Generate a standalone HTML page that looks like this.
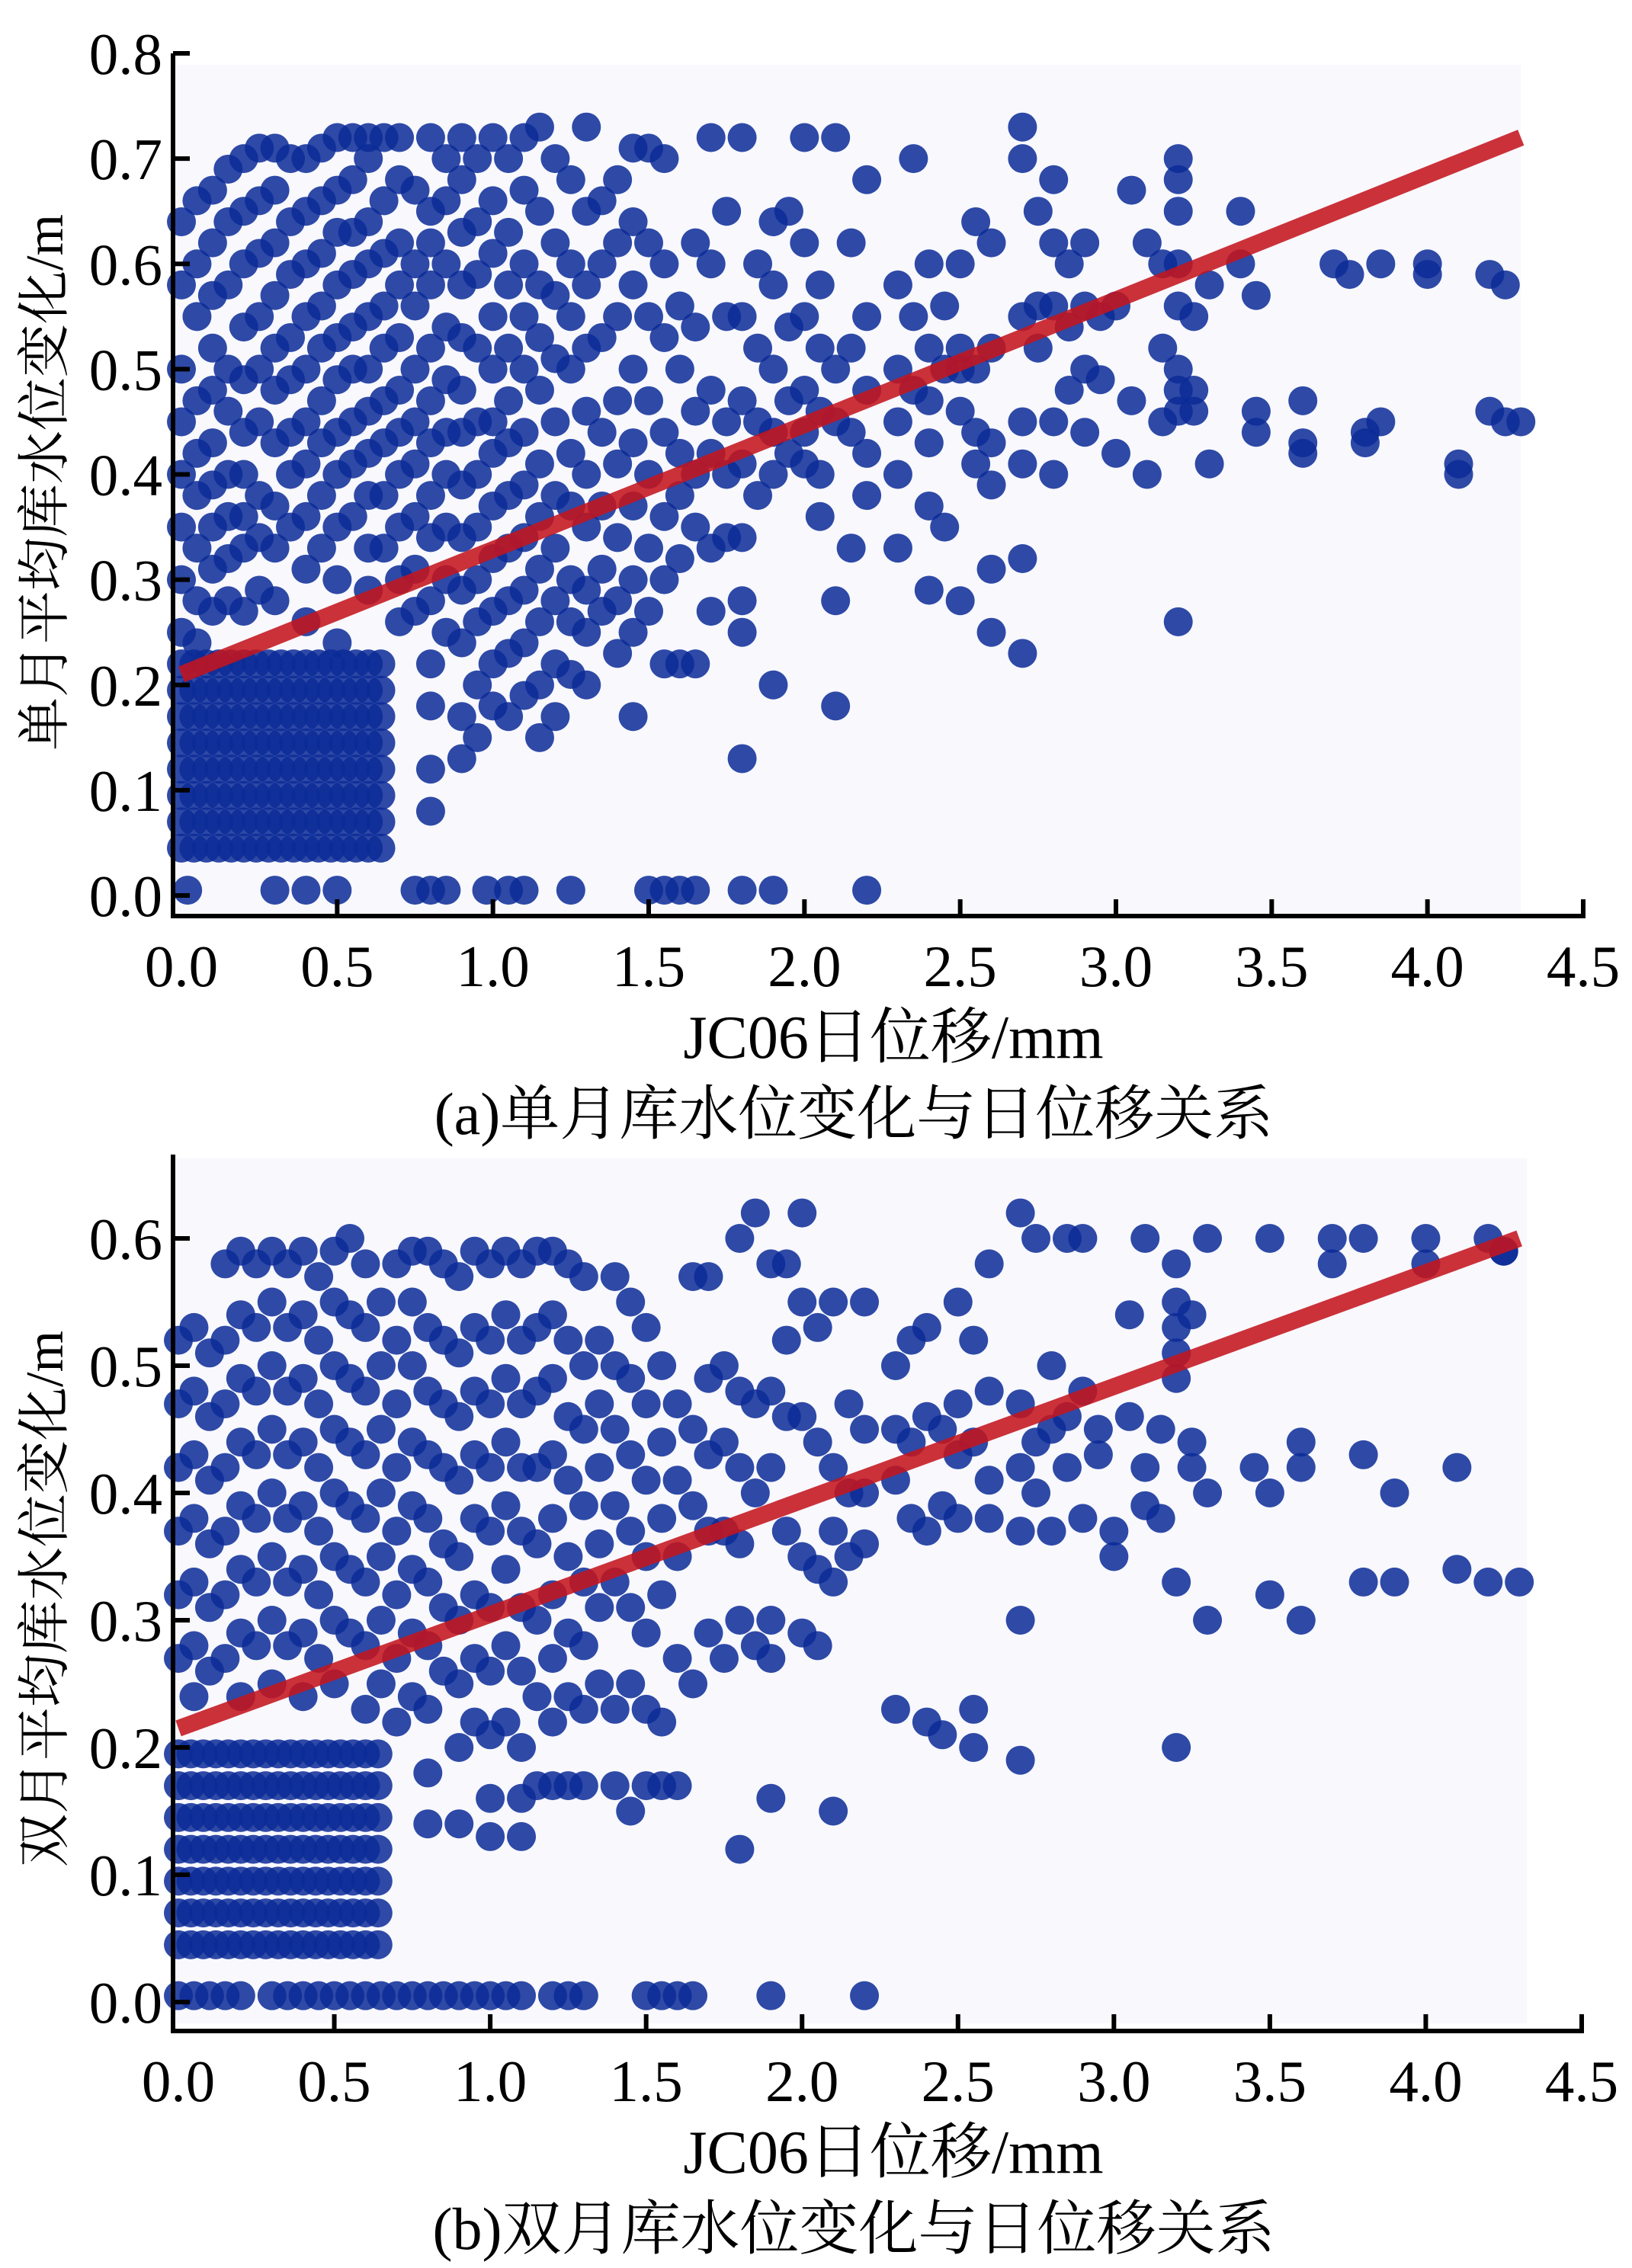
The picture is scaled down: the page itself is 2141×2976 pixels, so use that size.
<!DOCTYPE html>
<html><head><meta charset="utf-8"><style>
html,body{margin:0;padding:0;background:#fff;}
svg{display:block;}
text{font-family:"Liberation Serif","Noto Serif CJK SC",serif;fill:#000;}
</style></head><body>
<svg id="fig" width="2141" height="2976" viewBox="0 0 2141 2976" xmlns="http://www.w3.org/2000/svg"></svg>
<script>
// ---------- data: top chart (single month) ----------
const topCols = [
[0.0,[.64,.58,.5,.45,.4,.35,.3,.25]],[0.05,[.66,.6,.55,.47,.42,.38,.33,.28,.24]],
[0.1,[.67,.62,.57,.52,.48,.43,.39,.35,.31,.27]],[0.15,[.69,.64,.58,.5,.46,.4,.36,.32,.28]],
[0.2,[.7,.65,.6,.54,.49,.44,.4,.36,.33,.27]],[0.25,[.71,.66,.61,.55,.5,.45,.38,.34,.29]],
[0.3,[.71,.67,.62,.57,.52,.48,.43,.37,.33,.28]],[0.35,[.7,.64,.59,.53,.49,.44,.4,.35]],
[0.4,[.7,.65,.6,.55,.5,.45,.41,.36,.31,.26]],[0.45,[.71,.66,.61,.56,.52,.47,.43,.38,.33]],
[0.5,[.72,.67,.63,.58,.53,.49,.44,.4,.35,.3,.24]],[0.55,[.72,.68,.63,.59,.54,.5,.45,.41,.36]],
[0.6,[.72,.7,.64,.6,.55,.5,.46,.42,.38,.33,.29]],[0.65,[.72,.66,.61,.56,.52,.47,.43,.38,.33]],
[0.7,[.72,.68,.62,.58,.53,.48,.44,.4,.35,.3,.26]],[0.75,[.67,.6,.56,.5,.45,.41,.36,.31,.27]],
[0.8,[.72,.65,.62,.58,.52,.47,.43,.38,.34,.28,.22,.18,.12,.08]],[0.85,[.7,.66,.6,.54,.49,.44,.4,.35,.3,.25]],
[0.9,[.72,.68,.63,.58,.53,.48,.44,.39,.34,.29,.24,.17,.13]],[0.95,[.7,.64,.59,.52,.45,.4,.35,.3,.26,.2,.15]],
[1.0,[.72,.66,.61,.55,.5,.45,.42,.37,.32,.27,.22,.18]],[1.05,[.7,.63,.58,.52,.47,.43,.38,.33,.28,.23,.17]],
[1.1,[.72,.67,.6,.55,.5,.44,.39,.34,.29,.24,.19]],[1.15,[.73,.65,.58,.53,.48,.41,.36,.31,.26,.2,.15]],
[1.2,[.7,.62,.57,.51,.45,.38,.33,.28,.22,.17]],[1.25,[.68,.6,.55,.5,.42,.37,.3,.26,.21]],
[1.3,[.73,.65,.58,.52,.46,.4,.35,.29,.25,.2]],[1.35,[.66,.6,.53,.44,.37,.31,.27]],
[1.4,[.68,.62,.55,.47,.41,.34,.28,.23]],[1.45,[.71,.64,.58,.5,.43,.37,.3,.25,.17]],
[1.5,[.71,.62,.55,.47,.4,.33,.27]],[1.55,[.7,.6,.53,.44,.36,.3,.22]],
[1.6,[.56,.5,.42,.38,.32,.22]],[1.65,[.62,.54,.46,.4,.35,.22]],
[1.7,[.72,.6,.48,.42,.33,.27]],[1.75,[.65,.55,.45,.4,.34]],
[1.8,[.72,.55,.47,.41,.34,.28,.25,.13]],[1.85,[.6,.52,.45,.38]],
[1.9,[.64,.58,.5,.44,.4,.2]],[1.95,[.65,.54,.47,.42]],
[2.0,[.72,.62,.55,.48,.44,.41]],[2.05,[.58,.52,.46,.4,.36]],
[2.1,[.72,.5,.45,.28,.18]],[2.15,[.62,.52,.44,.33]],
[2.2,[.68,.55,.48,.42,.38]],[2.3,[.58,.5,.45,.4,.33]],
[2.35,[.7,.55,.48]],[2.4,[.6,.52,.47,.43,.37,.29]],
[2.45,[.56,.5,.35]],[2.5,[.6,.52,.5,.46,.28]],
[2.55,[.64,.5,.44,.41]],[2.6,[.62,.52,.43,.39,.31,.25]],
[2.7,[.73,.7,.55,.45,.41,.32,.23]],[2.75,[.65,.56,.52]],
[2.8,[.68,.62,.56,.45,.4]],[2.85,[.6,.54,.48]],
[2.9,[.62,.56,.5,.44]],[2.95,[.55,.49]],[3.0,[.56,.42]],[3.05,[.67,.47]],
[3.1,[.62,.4]],[3.15,[.6,.52,.45]],[3.2,[.7,.68,.65,.6,.56,.5,.48,.46,.26]],
[3.25,[.48,.46,.55]],[3.3,[.41,.58]],[3.4,[.65,.6]],[3.45,[.57,.46,.44]],
[3.6,[.47,.43,.42]],[3.7,[.6]],[3.75,[.59]],[3.8,[.44,.43]],[3.85,[.6,.45]],
[4.0,[.6,.59]],[4.1,[.41,.4]],[4.2,[.59,.46]],[4.25,[.58,.45]],[4.3,[.45]]
];
const topZeroX = [.02,.3,.4,.5,.75,.8,.85,.98,1.05,1.1,1.25,1.5,1.55,1.6,1.65,1.8,1.9,2.2];
const topBlockX = [0,.04,.08,.12,.16,.2,.24,.28,.32,.36,.4,.44,.48,.52,.56,.6,.64];
const topBlockY = [.045,.07,.095,.12,.145,.17,.195,.22];
const topFit = [[0,0.21],[4.3,0.72]];
const topYTicks = [0,0.1,0.2,0.3,0.4,0.5,0.6,0.7,0.8];
const xTicks = [0,0.5,1.0,1.5,2.0,2.5,3.0,3.5,4.0,4.5];

// ---------- data: bottom chart (double month) ----------
const botCols = [
[0.0,[.52,.47,.42,.37,.32,.27]],[0.05,[.53,.48,.43,.38,.33,.28,.24]],
[0.1,[.51,.46,.41,.36,.31,.26]],[0.15,[.58,.52,.47,.42,.37,.32,.27]],
[0.2,[.59,.54,.49,.44,.39,.34,.29,.24]],[0.25,[.58,.53,.48,.43,.38,.33,.28]],
[0.3,[.59,.55,.5,.45,.4,.35,.3,.25]],[0.35,[.58,.53,.48,.43,.38,.33,.28]],
[0.4,[.59,.54,.49,.44,.39,.34,.29,.24]],[0.45,[.57,.52,.47,.42,.37,.32,.27]],
[0.5,[.59,.55,.5,.45,.4,.35,.3,.25]],[0.55,[.6,.54,.49,.44,.39,.34,.29]],
[0.6,[.58,.53,.48,.43,.38,.33,.28,.23]],[0.65,[.55,.5,.45,.4,.35,.3,.25]],
[0.7,[.58,.52,.47,.42,.37,.32,.27,.22]],[0.75,[.59,.55,.5,.44,.39,.34,.29,.24]],
[0.8,[.59,.53,.48,.43,.38,.33,.28,.23,.18,.14]],[0.85,[.58,.52,.47,.42,.36,.31,.26]],
[0.9,[.57,.51,.46,.41,.35,.3,.25,.2,.14]],[0.95,[.59,.53,.48,.43,.38,.32,.27,.22]],
[1.0,[.58,.52,.47,.42,.37,.31,.26,.21,.16,.13]],[1.05,[.59,.54,.49,.44,.39,.34,.28,.22]],
[1.1,[.58,.52,.47,.42,.37,.31,.26,.2,.16,.13]],[1.15,[.59,.53,.48,.42,.36,.3,.24,.17]],
[1.2,[.59,.54,.49,.43,.38,.32,.27,.22,.17]],[1.25,[.58,.52,.46,.41,.35,.29,.24,.17]],
[1.3,[.57,.5,.45,.39,.33,.28,.23,.17]],[1.35,[.52,.47,.42,.36,.31,.25]],
[1.4,[.57,.5,.45,.39,.33,.23,.17]],[1.45,[.55,.49,.43,.37,.31,.25,.15]],
[1.5,[.53,.47,.41,.35,.29,.23,.17]],[1.55,[.5,.44,.38,.32,.22,.17]],
[1.6,[.47,.41,.35,.27,.17]],[1.65,[.57,.45,.39,.25]],
[1.7,[.57,.49,.43,.37,.29]],[1.75,[.5,.44,.37,.27]],
[1.8,[.6,.48,.42,.36,.3,.12]],[1.85,[.62,.47,.4,.28]],
[1.9,[.58,.48,.42,.3,.27,.16]],[1.95,[.58,.52,.46,.37]],
[2.0,[.62,.55,.46,.35,.29]],[2.05,[.53,.44,.34,.28]],
[2.1,[.55,.42,.37,.33,.15]],[2.15,[.47,.4,.35]],
[2.2,[.55,.45,.4,.36]],[2.3,[.5,.45,.41,.23]],
[2.35,[.52,.44,.38]],[2.4,[.53,.46,.37,.22]],
[2.45,[.45,.39,.21]],[2.5,[.55,.47,.43,.38]],
[2.55,[.52,.44,.23,.2]],[2.6,[.58,.48,.41,.38]],
[2.7,[.62,.47,.42,.37,.3,.19]],[2.75,[.6,.44,.4]],
[2.8,[.5,.45,.37]],[2.85,[.6,.46,.42]],
[2.9,[.6,.48,.38]],[2.95,[.45,.43]],[3.0,[.37,.35]],[3.05,[.54,.46]],
[3.1,[.6,.42,.39]],[3.15,[.45,.38]],[3.2,[.58,.55,.53,.51,.49,.33,.2]],
[3.25,[.54,.44,.42]],[3.3,[.6,.3,.4]],[3.45,[.42]],[3.5,[.6,.32,.4]],
[3.6,[.44,.42,.3]],[3.7,[.6,.58]],[3.8,[.6,.43,.33]],[3.9,[.4,.33]],
[4.0,[.58,.6]],[4.1,[.42,.34]],[4.2,[.6,.33]],[4.25,[.59,.59]],[4.3,[.33]]
];
const botZeroX = [.0,.05,.1,.15,.2,.3,.35,.4,.45,.5,.55,.6,.65,.7,.75,.8,.85,.9,.95,1.0,1.05,1.1,1.2,1.25,1.3,1.5,1.55,1.6,1.65,1.9,2.2];
const botBlockX = [0,.04,.08,.12,.16,.2,.24,.28,.32,.36,.4,.44,.48,.52,.56,.6,.64];
const botBlockY = [.045,.07,.095,.12,.145,.17,.195];
const botFit = [[0,0.215],[4.3,0.60]];
const botYTicks = [0,0.1,0.2,0.3,0.4,0.5,0.6];

// ---------- drawing ----------
const NS = 'http://www.w3.org/2000/svg';
const fig = document.getElementById('fig');
function mk(tag, attrs, parent){
  const e = document.createElementNS(NS, tag);
  for (const k in attrs) e.setAttribute(k, attrs[k]);
  (parent||fig).appendChild(e);
  return e;
}
function chart(cfg){
  const g = mk('g', {});
  
  
  const X = v => cfg.x0 + v*(cfg.x45 - cfg.x0)/4.5;
  const Y = v => cfg.y0 - v*(cfg.y0 - cfg.ytop)/cfg.ymax;
  const bg = mk('rect', {x:cfg.bg[0], y:cfg.bg[1], width:cfg.bg[2]-cfg.bg[0], height:cfg.bg[3]-cfg.bg[1], fill:'#f8f8fd'}, g);
  
  
  const pts = mk('g', {fill:'#0a2a96', 'fill-opacity':'0.85'}, g);
  
  
  const dot = (x,y) => {
    const c = mk('circle', {cx:X(x), cy:Y(y), r:19}, pts);
    
    
  };
  cfg.block[0].forEach(x => cfg.block[1].forEach(y => dot(x,y)));
  cfg.cols.forEach(c => c[1].forEach(y => dot(c[0], y)));
  cfg.zero.forEach(x => dot(x, 0.005));
  const fl = mk('line', {x1:X(cfg.fit[0][0]), y1:Y(cfg.fit[0][1]), x2:X(cfg.fit[1][0]), y2:Y(cfg.fit[1][1]), stroke:'#c4141e', 'stroke-width':22, 'stroke-opacity':'0.88'}, g);
  
  
  const ax = mk('path', {d:`M${cfg.ax} ${cfg.axTop} V${cfg.axY} H${X(4.5)+3}`, fill:'none', stroke:'#000', 'stroke-width':6}, g);
  
  
  cfg.yticks.forEach(v => {
    const t = mk('line', {x1:cfg.ax, x2:cfg.ax+22, y1:Y(v), y2:Y(v), stroke:'#000', 'stroke-width':6}, g);
    
    
    const l = mk('text', {x:cfg.ax-14, y:Y(v)+27, 'text-anchor':'end', 'font-size':77}, g);
    l.textContent = v.toFixed(1);
    
    
  });
  xTicks.forEach(v => {
    if (v > 0) {
      const t = mk('line', {x1:X(v), x2:X(v), y1:cfg.axY, y2:cfg.axY-22, stroke:'#000', 'stroke-width':6}, g);
      
      
    }
    const l = mk('text', {x:X(v), y:cfg.axY+92, 'text-anchor':'middle', 'font-size':77}, g);
    l.textContent = v.toFixed(1);
    
    
  });
  const xt = mk('text', {x:1172, y:cfg.axY+186, 'text-anchor':'middle', 'font-size':80}, g);
  xt.textContent = 'JC06日位移/mm';
  
  
  const cap = mk('text', {x:1120, y:cfg.axY+286, 'text-anchor':'middle', 'font-size':78}, g);
  cap.textContent = cfg.caption;
  
  
  const yt = mk('text', {x:0, y:0, 'text-anchor':'middle', 'font-size':70, transform:`translate(82 ${cfg.ytitleY}) rotate(-90)`}, g);
  yt.textContent = cfg.ytitle;
  
  
}
chart({name:'chart-single-month', x0:238, x45:2077, y0:1175, ytop:70, ymax:0.8, ax:227, axTop:70, axY:1202,
  bg:[231,85,1995,1197], cols:topCols, zero:topZeroX, block:[topBlockX, topBlockY], fit:topFit, yticks:topYTicks,
  caption:'(a)单月库水位变化与日位移关系', ytitle:'单月平均库水位变化/m', ytitleY:633});
chart({name:'chart-double-month', x0:234, x45:2075, y0:2627, ytop:1625, ymax:0.6, ax:227, axTop:1515, axY:2665,
  bg:[231,1520,2003,2655], cols:botCols, zero:botZeroX, block:[botBlockX, botBlockY], fit:botFit, yticks:botYTicks,
  caption:'(b)双月库水位变化与日位移关系', ytitle:'双月平均库水位变化/m', ytitleY:2098});
</script>
</body></html>
